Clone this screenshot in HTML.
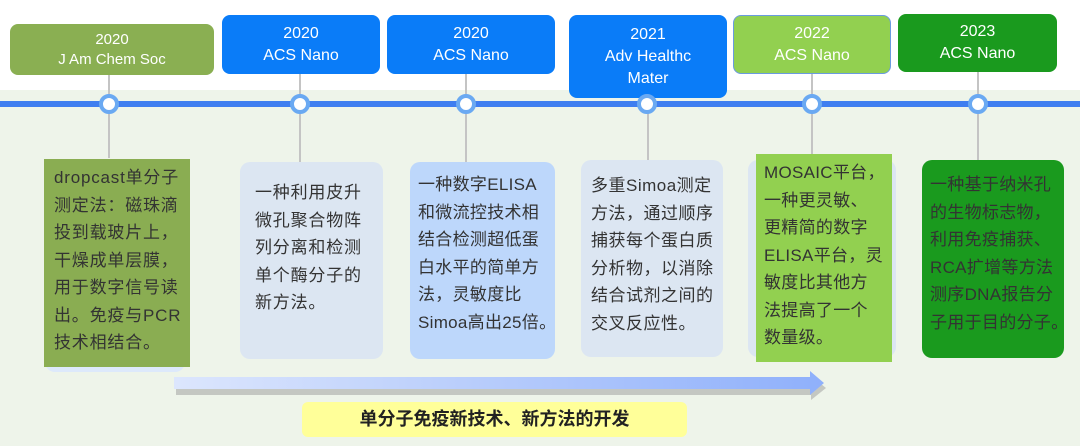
<!DOCTYPE html>
<html><head><meta charset="utf-8"><style>
*{margin:0;padding:0;box-sizing:border-box}
body{width:1080px;height:446px;overflow:hidden;background:#fff;position:relative;font-family:"Liberation Sans","Noto Sans CJK SC",sans-serif}
.a{position:absolute}
.h{position:absolute;color:#fff;text-align:center;font-size:16px;line-height:22px;border-radius:8px;display:flex;flex-direction:column;justify-content:center}
.c{position:absolute;font-size:17px;line-height:27.5px;color:#333;letter-spacing:0.8px;white-space:nowrap;overflow:hidden}
.v{position:absolute;width:2px;background:#c4c4c4}
.dot{position:absolute;width:20px;height:20px;border-radius:50%;background:#fff;border:4px solid #6aa9f2}
</style></head><body>
<div class="a" style="left:0;top:90px;width:1080px;height:356px;background:#eef4ea"></div>
<div class="a" style="left:0;top:101px;width:1080px;height:6px;background:#3f7ef0"></div>

<div class="v" style="left:108px;top:75px;height:83px"></div>
<div class="v" style="left:299px;top:74px;height:88px"></div>
<div class="v" style="left:465px;top:74px;height:88px"></div>
<div class="v" style="left:647px;top:98px;height:62px"></div>
<div class="v" style="left:811px;top:74px;height:80px"></div>
<div class="v" style="left:977px;top:72px;height:88px"></div>

<div class="h" style="left:10px;top:24px;width:204px;height:51px;background:#8aaf52;font-size:15px;line-height:20px">2020<br>J Am Chem Soc</div>
<div class="h" style="left:222px;top:15px;width:158px;height:59px;background:#0a7cf8">2020<br>ACS Nano</div>
<div class="h" style="left:387px;top:15px;width:168px;height:59px;background:#0a7cf8">2020<br>ACS Nano</div>
<div class="h" style="left:569px;top:15px;width:158px;height:83px;background:#0a7cf8">2021<br>Adv Healthc<br>Mater</div>
<div class="h" style="left:733px;top:15px;width:158px;height:59px;background:#92d050;border:1px solid #6a9be0">2022<br>ACS Nano</div>
<div class="h" style="left:898px;top:14px;width:159px;height:58px;background:#1a9a1e">2023<br>ACS Nano</div>

<div class="dot" style="left:99px;top:94px"></div>
<div class="dot" style="left:290px;top:94px"></div>
<div class="dot" style="left:456px;top:94px"></div>
<div class="dot" style="left:637px;top:94px"></div>
<div class="dot" style="left:802px;top:94px"></div>
<div class="dot" style="left:968px;top:94px"></div>

<div class="a" style="left:45px;top:300px;width:140px;height:72px;background:#dde9fb;border-radius:10px"></div>
<div class="c" style="left:44px;top:159px;width:146px;height:208px;background:#8aad52;padding:5px 0 0 10px">dropcast单分子<br>测定法：磁珠滴<br>投到载玻片上，<br>干燥成单层膜，<br>用于数字信号读<br>出。免疫与PCR<br>技术相结合。</div>
<div class="c" style="left:240px;top:162px;width:143px;height:197px;background:#dce6f2;border-radius:10px;padding:17px 0 0 15px">一种利用皮升<br>微孔聚合物阵<br>列分离和检测<br>单个酶分子的<br>新方法。</div>
<div class="c" style="left:410px;top:162px;width:145px;height:197px;background:#bdd7fb;border-radius:10px;padding:9px 0 0 8px;letter-spacing:0.3px">一种数字ELISA<br>和微流控技术相<br>结合检测超低蛋<br>白水平的简单方<br>法，灵敏度比<br>Simoa高出25倍。</div>
<div class="c" style="left:581px;top:160px;width:142px;height:197px;background:#dce6f2;border-radius:10px;padding:12px 0 0 10px;letter-spacing:0.5px">多重Simoa测定<br>方法，通过顺序<br>捕获每个蛋白质<br>分析物，以消除<br>结合试剂之间的<br>交叉反应性。</div>
<div class="a" style="left:748px;top:160px;width:148px;height:197px;background:#dce6f2;border-radius:10px"></div>
<div class="c" style="left:756px;top:154px;width:136px;height:208px;background:#92d050;padding:5px 0 0 8px;letter-spacing:0.3px">MOSAIC平台，<br>一种更灵敏、<br>更精简的数字<br>ELISA平台，灵<br>敏度比其他方<br>法提高了一个<br>数量级。</div>
<div class="c" style="left:922px;top:160px;width:142px;height:198px;background:#1a9a1e;border-radius:10px;padding:11px 0 0 8px;letter-spacing:0.3px">一种基于纳米孔<br>的生物标志物，<br>利用免疫捕获、<br>RCA扩增等方法<br>测序DNA报告分<br>子用于目的分子。</div>

<svg class="a" style="left:170px;top:370px" width="670" height="32">
<defs><linearGradient id="g" x1="0" x2="1"><stop offset="0" stop-color="#dce6fd"/><stop offset="1" stop-color="#8fb0fb"/></linearGradient></defs>
<path d="M5 8 H640 V3 L655 15 L640 27 V22 H5 Z" fill="#999" opacity="0.5" transform="translate(1,3)"/>
<path d="M4 7 H640 V1 L654 13 L640 25 V19 H4 Z" fill="url(#g)"/>
</svg>
<div class="a" style="left:302px;top:402px;width:385px;height:35px;background:#ffff99;border-radius:6px;text-align:center;font-size:18px;line-height:35px;font-weight:bold;color:#222">单分子免疫新技术、新方法的开发</div>
</body></html>
